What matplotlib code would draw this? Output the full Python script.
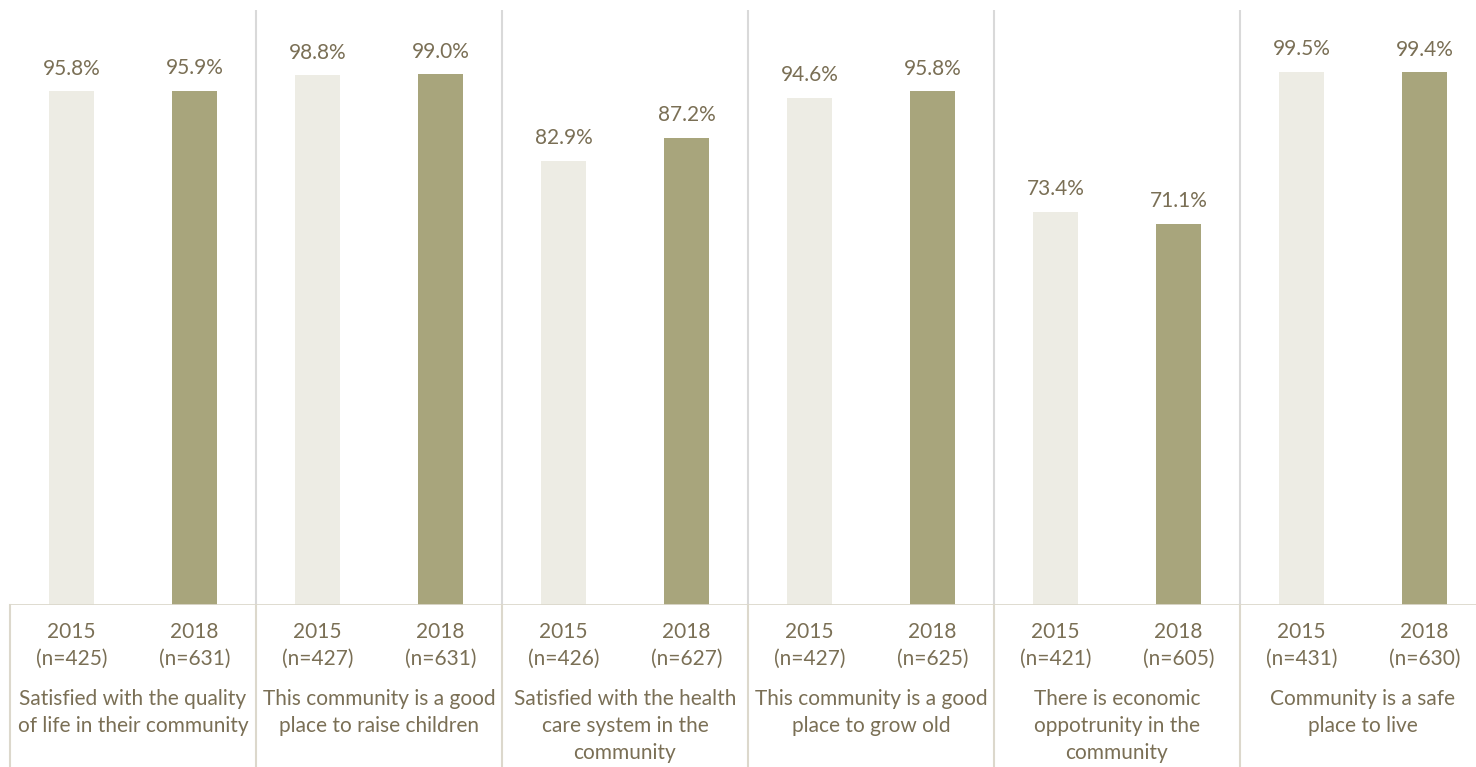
import numpy as np
import matplotlib
matplotlib.use("Agg")
import matplotlib.pyplot as plt
from matplotlib.transforms import blended_transform_factory

# ── data ─────────────────────────────────────────────
categories = [
    "Satisfied with the quality\nof life in their community",
    "This community is a good\nplace to raise children",
    "Satisfied with the health\ncare system in the\ncommunity",
    "This community is a good\nplace to grow old",
    "There is economic\noppotrunity in the\ncommunity",
    "Community is a safe\nplace to live",
]
years = ["2015", "2018"]
pct_2015 = [95.8, 98.8, 82.9, 94.6, 73.4, 99.5]
pct_2018 = [95.9, 99.0, 87.2, 95.8, 71.1, 99.4]
n_2015 = [425, 427, 426, 427, 421, 431]
n_2018 = [631, 631, 627, 625, 605, 630]

# ── style ────────────────────────────────────────────
c_2015 = "#EDECE4"
c_2018 = "#A8A57C"
txt = "#7A6F55"
sep_top = "#D9D9D9"
sep_bot = "#DCD8CC"

plt.rcParams["font.family"] = ["Lato", "DejaVu Sans"]

W, H = 1476, 767
fig = plt.figure(figsize=(W / 100, H / 100), dpi=100)
# plot area runs slightly past the right edge of the canvas
ax = fig.add_axes([10 / W, 162 / H, 1476 / W, 595 / H])

ngroup = len(categories)
x15 = np.arange(ngroup) * 2
x18 = x15 + 1
bw = 0.36

ax.bar(x15, pct_2015, width=bw, color=c_2015, zorder=2)
ax.bar(x18, pct_2018, width=bw, color=c_2018, zorder=2)

for xs, vals in ((x15, pct_2015), (x18, pct_2018)):
    for x, v in zip(xs, vals):
        ax.annotate(f"{v:.1f}%", (x, v), xytext=(0, 9), textcoords="offset points",
                    ha="center", va="bottom", fontsize=15, color=txt)

ax.set_xlim(-0.5, ngroup * 2 - 0.5)
ax.set_ylim(0, 111)

# group separators inside the plot
for g in range(1, ngroup):
    ax.axvline(g * 2 - 0.5, color=sep_top, lw=1.5, zorder=1)

# axis line + separators running through the label area
trans = blended_transform_factory(ax.transData, ax.transAxes)
ybot = -162 / 595
for g in range(0, ngroup + 1):
    ax.plot([g * 2 - 0.5] * 2, [0, ybot], transform=trans, color=sep_bot,
            lw=1.5, clip_on=False)
ax.axhline(0, color=sep_bot, lw=2, zorder=3)

# tick labels: year + sample size
ticks = np.concatenate([x15, x18])
labels = [f"{years[0]}\n(n={n})" for n in n_2015] + [f"{years[1]}\n(n={n})" for n in n_2018]
ax.set_xticks(ticks)
ax.set_xticklabels(labels, fontsize=15, color=txt, linespacing=1.45)
ax.tick_params(axis="x", length=0, pad=12)
ax.set_yticks([])

for g, cat in enumerate(categories):
    ax.text(g * 2 + 0.5, -84 / 595, cat, transform=trans, ha="center", va="top",
            fontsize=15, color=txt, linespacing=1.45)

for s in ax.spines.values():
    s.set_visible(False)

fig.savefig("out.png", dpi=100)
